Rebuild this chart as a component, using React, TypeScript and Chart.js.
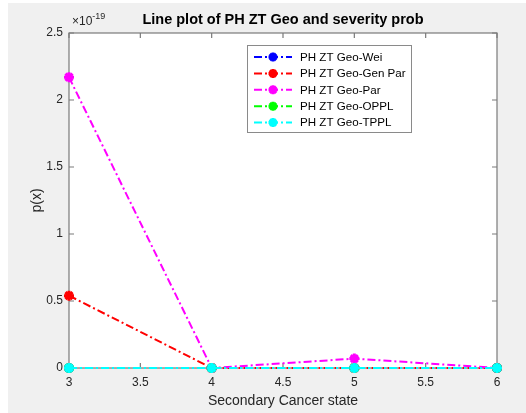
import React, { useEffect, useRef } from "react";
import { Chart, registerables } from "chart.js";

Chart.register(...registerables);

// Secondary cancer states on the x axis
const states = [3, 4, 5, 6];
// p(x) per model, in units of 1e-19
const weiValues = [0, 0, 0, 0];
const genParValues = [0.54, 0, 0, 0];
const parValues = [2.17, 0, 0.07, 0];
const opplValues = [0, 0, 0, 0];
const tpplValues = [0, 0, 0, 0];

const seriesNames = [
  "PH ZT Geo-Wei",
  "PH ZT Geo-Gen Par",
  "PH ZT Geo-Par",
  "PH ZT Geo-OPPL",
  "PH ZT Geo-TPPL",
];
const seriesColors = ["#0000ff", "#ff0000", "#ff00ff", "#00ff00", "#00ffff"];
const seriesValues = [weiValues, genParValues, parValues, opplValues, tpplValues];

const xTicks = [3, 3.5, 4, 4.5, 5, 5.5, 6];
const yTicks = [0, 0.5, 1, 1.5, 2, 2.5];

const FONT = "'Liberation Sans', Arial, Helvetica, sans-serif";
const AXIS_COLOR = "#7a7a7a";
const TEXT_COLOR = "#262626";
const DASH = [8, 3, 2, 3];

function drawStar(ctx: CanvasRenderingContext2D, x: number, y: number, r: number, color: string) {
  ctx.save();
  ctx.setLineDash([]);
  ctx.strokeStyle = color;
  ctx.lineWidth = 3;
  ctx.beginPath();
  for (let k = 0; k < 4; k++) {
    const a = (k * Math.PI) / 4;
    ctx.moveTo(x - r * Math.cos(a), y - r * Math.sin(a));
    ctx.lineTo(x + r * Math.cos(a), y + r * Math.sin(a));
  }
  ctx.stroke();
  ctx.restore();
}

const figurePlugin = {
  id: "figureFrame",
  beforeDraw(chart: any) {
    const { ctx, width, height, chartArea } = chart;
    ctx.save();
    ctx.fillStyle = "#ffffff";
    ctx.fillRect(0, 0, width, height);
    ctx.fillStyle = "#f0f0f0";
    ctx.fillRect(8, 3, width - 8, height - 3);
    ctx.fillStyle = "#ffffff";
    ctx.fillRect(chartArea.left, chartArea.top, chartArea.right - chartArea.left, chartArea.bottom - chartArea.top);
    ctx.restore();
  },
  beforeDatasetsDraw(chart: any) {
    const { ctx, chartArea } = chart;
    const { left, right, top, bottom } = chartArea;
    const xs = chart.scales.x;
    const ys = chart.scales.y;
    const tl = 5;
    ctx.save();
    ctx.strokeStyle = AXIS_COLOR;
    ctx.lineWidth = 1.2;
    ctx.setLineDash([]);
    ctx.strokeRect(left, top, right - left, bottom - top);
    ctx.beginPath();
    xTicks.forEach((v) => {
      const px = xs.getPixelForValue(v);
      ctx.moveTo(px, bottom);
      ctx.lineTo(px, bottom - tl);
      ctx.moveTo(px, top);
      ctx.lineTo(px, top + tl);
    });
    yTicks.forEach((v) => {
      const py = ys.getPixelForValue(v);
      ctx.moveTo(left, py);
      ctx.lineTo(left + tl, py);
      ctx.moveTo(right, py);
      ctx.lineTo(right - tl, py);
    });
    ctx.stroke();
    ctx.restore();
  },
  afterDraw(chart: any) {
    const { ctx, chartArea } = chart;
    ctx.save();
    // exponent of the y axis
    ctx.fillStyle = TEXT_COLOR;
    ctx.textBaseline = "alphabetic";
    ctx.textAlign = "left";
    ctx.font = `12px ${FONT}`;
    const base = "\u00d710";
    ctx.fillText(base, chartArea.left + 3, chartArea.top - 8);
    const w = ctx.measureText(base).width;
    ctx.font = `9px ${FONT}`;
    ctx.fillText("-19", chartArea.left + 3 + w, chartArea.top - 14);

    // legend
    const bx = 247;
    const by = 45;
    const bw = 164;
    const bh = 87;
    ctx.fillStyle = "#ffffff";
    ctx.fillRect(bx, by, bw, bh);
    ctx.strokeStyle = "#8a8a8a";
    ctx.lineWidth = 1;
    ctx.strokeRect(bx + 0.5, by + 0.5, bw, bh);
    chart.data.datasets.forEach((ds: any, i: number) => {
      const y = by + 12 + i * 16.4;
      ctx.strokeStyle = ds.borderColor;
      ctx.lineWidth = 2;
      ctx.setLineDash(DASH);
      ctx.beginPath();
      ctx.moveTo(bx + 7, y);
      ctx.lineTo(bx + 45, y);
      ctx.stroke();
      drawStar(ctx, bx + 26, y, 4.5, ds.borderColor);
      ctx.fillStyle = "#000000";
      ctx.font = `11.6px ${FONT}`;
      ctx.textBaseline = "middle";
      ctx.fillText(ds.label, bx + 53, y + 0.5);
    });
    ctx.restore();
  },
};

export default function App() {
  const canvasRef = useRef<HTMLCanvasElement | null>(null);

  useEffect(() => {
    const canvas = canvasRef.current;
    if (!canvas) return;
    const datasets = seriesValues.map((vals, i) => ({
      label: seriesNames[i],
      data: states.map((s, j) => ({ x: s, y: vals[j] })),
      borderColor: seriesColors[i],
      backgroundColor: seriesColors[i],
      borderWidth: 2,
      borderDash: DASH,
      pointStyle: "star" as const,
      pointRadius: 5,
      pointBorderWidth: 3,
      pointBorderColor: seriesColors[i],
      pointBackgroundColor: seriesColors[i],
      tension: 0,
      clip: false as any,
      order: seriesValues.length - i,
    }));

    const chart = new Chart(canvas, {
      type: "line",
      data: { datasets },
      plugins: [figurePlugin],
      options: {
        animation: false,
        responsive: false,
        devicePixelRatio: 1,
        layout: { padding: { top: 3, left: 8, right: 29, bottom: 0 } },
        plugins: {
          legend: { display: false },
          tooltip: { enabled: false },
          title: {
            display: true,
            text: "Line plot of PH ZT Geo and severity prob",
            fullSize: false,
            color: "#000000",
            font: { family: FONT, size: 14.5, weight: "bold", lineHeight: 1.2 },
            padding: { top: 8, bottom: 4.6 },
          },
        },
        scales: {
          x: {
            type: "linear",
            min: 3,
            max: 6,
            afterBuildTicks: (scale: any) => {
              scale.ticks = xTicks.map((v) => ({ value: v }));
            },
            afterFit: (scale: any) => {
              scale.height = 45;
            },
            grid: { display: false, drawTicks: false },
            border: { display: false },
            ticks: {
              color: TEXT_COLOR,
              font: { family: FONT, size: 12 },
              padding: 7,
              maxRotation: 0,
              callback: (v: any) => String(v),
            },
            title: {
              display: true,
              text: "Secondary Cancer state",
              color: TEXT_COLOR,
              font: { family: FONT, size: 14, lineHeight: 1.2 },
              padding: { top: 3.5, bottom: 3.5 },
            },
          },
          y: {
            type: "linear",
            min: 0,
            max: 2.5,
            afterBuildTicks: (scale: any) => {
              scale.ticks = yTicks.map((v) => ({ value: v }));
            },
            afterFit: (scale: any) => {
              scale.width = 61;
            },
            grid: { display: false, drawTicks: false },
            border: { display: false },
            ticks: {
              color: TEXT_COLOR,
              font: { family: FONT, size: 12 },
              padding: 6,
              callback: (v: any) => String(v),
            },
            title: {
              display: true,
              text: "p(x)",
              color: TEXT_COLOR,
              font: { family: FONT, size: 14, lineHeight: 1.2 },
              padding: { top: 20.6, bottom: 20.6 },
            },
          },
        },
      },
    });
    return () => chart.destroy();
  }, []);

  return (
    <div style={{ position: "fixed", left: 0, top: 0, width: 526, height: 413 }}>
      <canvas ref={canvasRef} width={526} height={413} style={{ width: 526, height: 413, display: "block" }} />
    </div>
  );
}
